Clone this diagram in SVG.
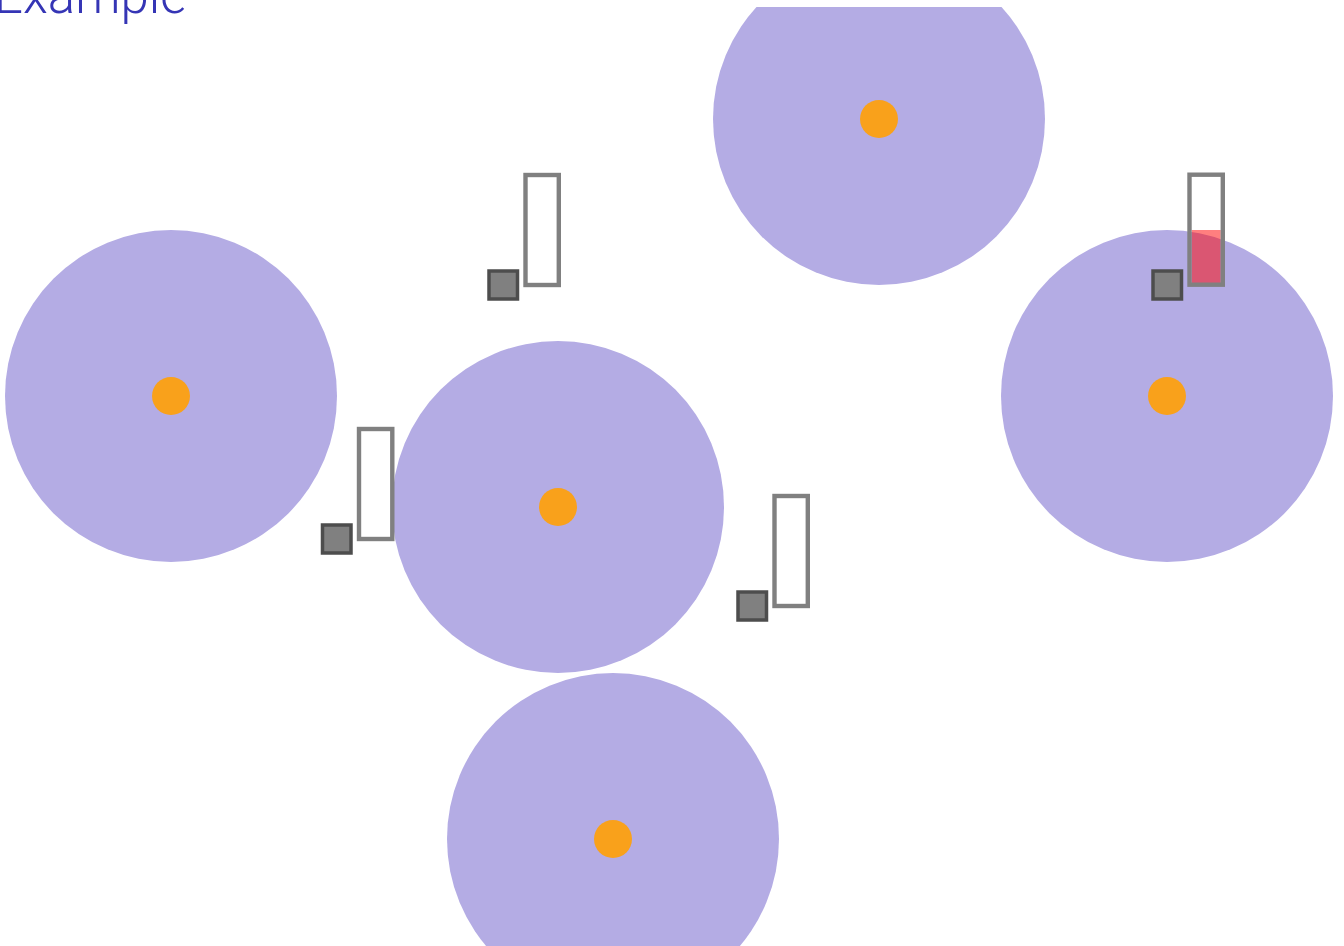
<svg xmlns="http://www.w3.org/2000/svg" width="1344" height="946" viewBox="0 0 1344 946">
<defs>
<style>
.zone{fill:#b4ace4}
.dot{fill:#f9a11b}
.sq{fill:#808080;stroke:#4d4d4d;stroke-width:3.5}
.bar{fill:none;stroke:#808080;stroke-width:4.4}
.lvl{fill:#ff0000;fill-opacity:0.5}
.title{font-family:Roboto,"Liberation Sans",sans-serif;font-weight:300;font-size:51px;fill:#3535b5}
</style>
<clipPath id="view"><rect x="0" y="7" width="1344" height="939"/></clipPath>
</defs>
<rect width="1344" height="946" fill="#ffffff"/>
<g clip-path="url(#view)">
<g id="zone-left"><circle class="zone" cx="171" cy="396" r="166"/><circle class="dot" cx="171" cy="396" r="19"/></g>
<g id="zone-mid"><circle class="zone" cx="558" cy="507" r="166"/><circle class="dot" cx="558" cy="507" r="19"/></g>
<g id="zone-top"><circle class="zone" cx="879" cy="119" r="166"/><circle class="dot" cx="879" cy="119" r="19"/></g>
<g id="zone-right"><circle class="zone" cx="1167" cy="396" r="166"/><circle class="dot" cx="1167" cy="396" r="19"/></g>
<g id="zone-bottom"><circle class="zone" cx="613" cy="839" r="166"/><circle class="dot" cx="613" cy="839" r="19"/></g>
<g id="gauge-1"><rect class="sq" x="322.5" y="525" width="28.5" height="28"/><rect class="bar" x="359" y="429" width="33.3" height="110"/></g>
<g id="gauge-2"><rect class="sq" x="489" y="271" width="28.5" height="28"/><rect class="bar" x="525.5" y="175" width="33.3" height="110"/></g>
<g id="gauge-3"><rect class="sq" x="738" y="592" width="28.5" height="28"/><rect class="bar" x="774.5" y="496" width="33.3" height="110"/></g>
<g id="gauge-4"><rect class="lvl" x="1191.7" y="230" width="29" height="53"/><rect class="sq" x="1153" y="271" width="28.5" height="28"/><rect class="bar" x="1189.5" y="174.7" width="33.3" height="110"/></g>
</g>
<text class="title" x="-6" y="13">Example</text>
</svg>
